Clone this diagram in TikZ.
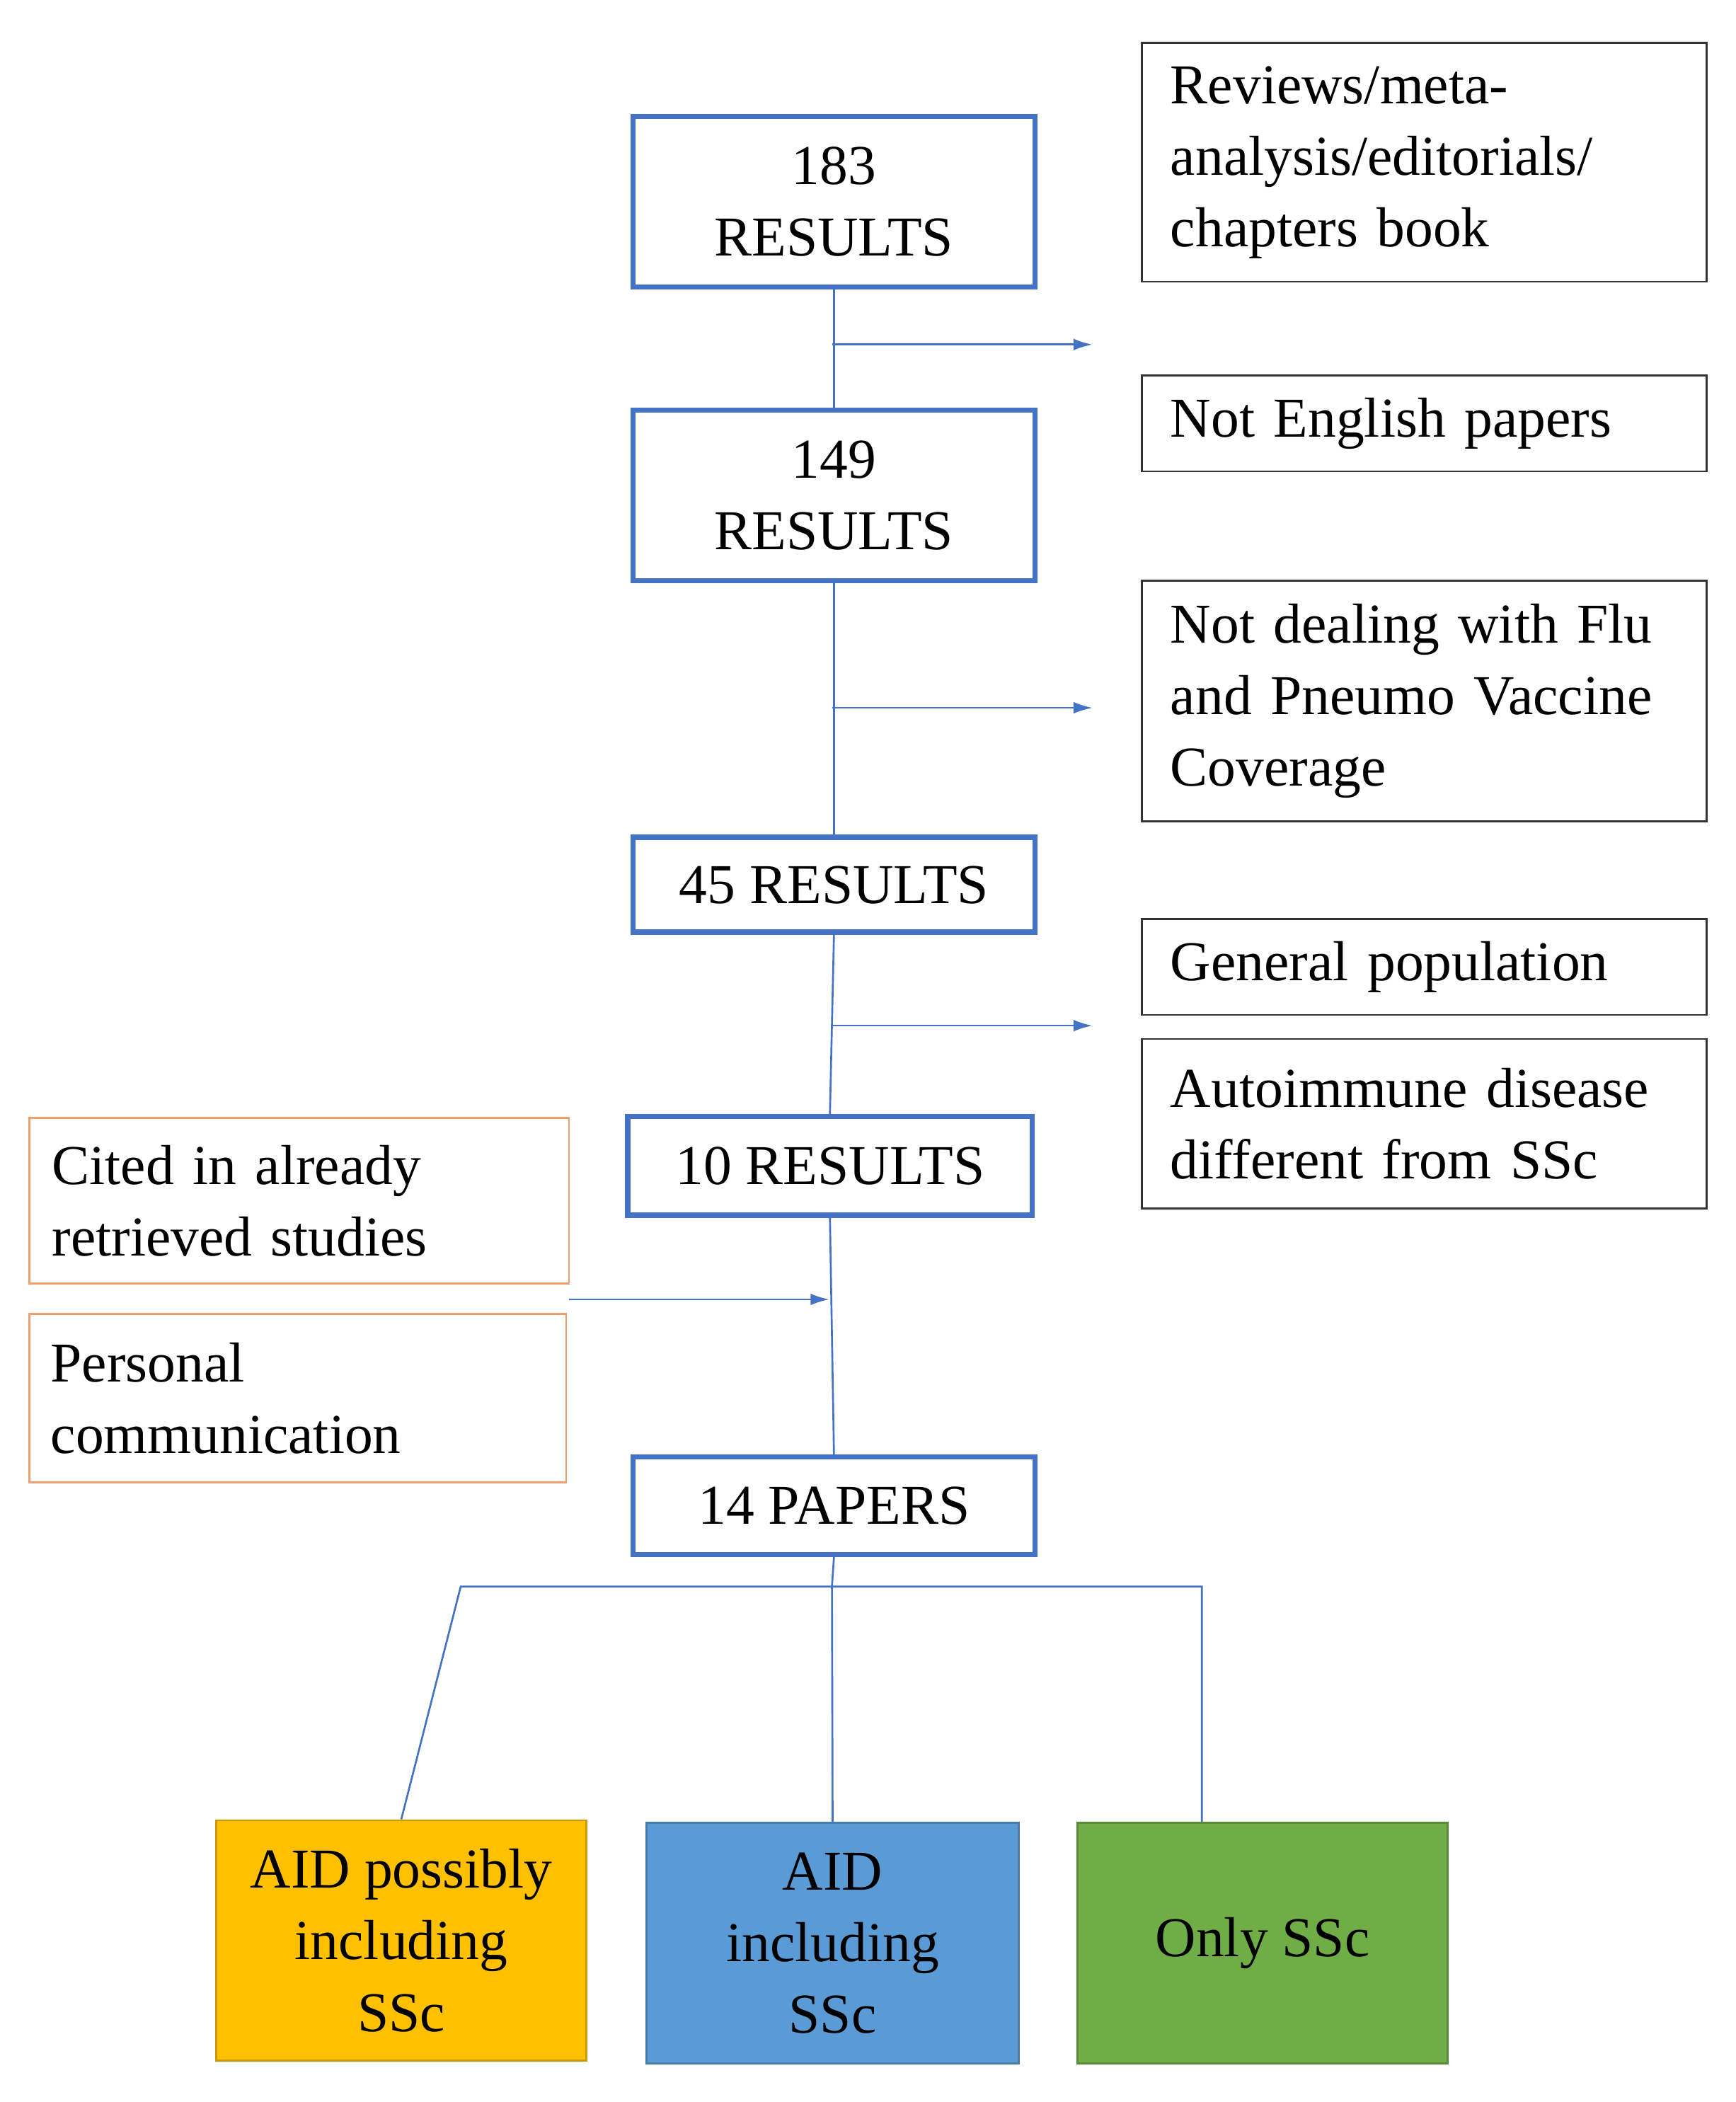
\documentclass[tikz,border=0pt]{standalone}
\usepackage{fontspec}
\setmainfont{Liberation Serif}
\usetikzlibrary{arrows.meta}
\definecolor{bl}{RGB}{68,114,196}
\definecolor{orb}{RGB}{237,160,110}
\definecolor{yel}{RGB}{255,192,0}
\definecolor{blu}{RGB}{91,155,213}
\definecolor{grn}{RGB}{112,173,71}
\begin{document}
\begin{tikzpicture}[x=0.02cm,y=-0.02cm,
  every node/.style={font=\fontsize{24}{30.5}\selectfont},
  main/.style={draw=bl,line width=2.2pt,align=center,inner sep=0},
  side/.style={draw=black!80,line width=0.8pt,align=left,inner sep=0,text width=380*0.02cm},
  lft/.style={draw=orb,line width=0.8pt,align=left,inner sep=0,text width=370*0.02cm},
  bot/.style={line width=0.8pt,align=center,inner sep=0},
  ln/.style={draw=bl,line width=0.8pt},
  arr/.style={ln,-{Latex[length=8pt,width=5pt]}}]
\useasboundingbox (0,0) rectangle (1300,1574);
\newcommand{\bx}[6]{\node[#1,minimum width=(#4-#2)*0.02cm,minimum height=(#5-#3)*0.02cm] (#6) at ({(#2+#4)/2},{(#3+#5)/2})}
\bx{main}{474}{87}{775}{215}{r1} {183\\RESULTS};
\bx{main}{474}{307}{775}{435}{r2} {149\\RESULTS};
\bx{main}{474}{627}{775}{698}{r3} {45 RESULTS};
\bx{main}{470}{836}{773}{910}{r4} {10 RESULTS};
\bx{main}{474}{1091}{775}{1164}{r5} {14 PAPERS};
\bx{side}{855}{32}{1278}{211}{s1} {Reviews/meta-\\analysis/editorials/\\chapters book};
\bx{side}{855}{281}{1278}{353}{s2} {Not English papers};
\bx{side}{855}{435}{1278}{615}{s3} {Not dealing with Flu\\and Pneumo Vaccine\\Coverage};
\bx{side}{855}{688}{1278}{760}{s4} {General population};
\bx{side}{855}{778}{1278}{905}{s5} {Autoimmune disease\\different from SSc};
\bx{lft}{22}{837}{426}{961}{l1} {Cited in already\\retrieved studies};
\bx{lft}{22}{984}{424}{1110}{l2} {Personal\\communication};
\bx{bot,draw=yel!80!black,fill=yel}{162}{1363}{439}{1543}{b1} {AID possibly\\including\\SSc};
\bx{bot,draw=blu!80!black,fill=blu}{484}{1365}{763}{1545}{b2} {AID\\including\\SSc};
\bx{bot,draw=grn!80!black,fill=grn}{807}{1365}{1084}{1545}{b3} {Only SSc};
\draw[ln] (r1.south) -- (r2.north);
\draw[ln] (r2.south) -- (r3.north);
\draw[ln] (r3.south) -- (r4.north);
\draw[ln] (r4.south) -- (r5.north);
\coordinate (a1) at (623,258); \coordinate (e1) at (818,258);
\coordinate (a2) at (623,530); \coordinate (e2) at (818,530);
\coordinate (a3) at (623,768); \coordinate (e3) at (818,768);
\coordinate (a4) at (426,973); \coordinate (e4) at (621,973);
\draw[arr] (a1) -- (e1);
\draw[arr] (a2) -- (e2);
\draw[arr] (a3) -- (e3);
\draw[arr] (a4) -- (e4);
\coordinate (j) at (623,1188);
\draw[ln] (r5.south) -- (j);
\draw[ln] (b1.north) -- (345,1188) -- (900,1188) -- (b3.north-|900,0);
\draw[ln] (j) -- (b2.north);
\end{tikzpicture}
\end{document}
